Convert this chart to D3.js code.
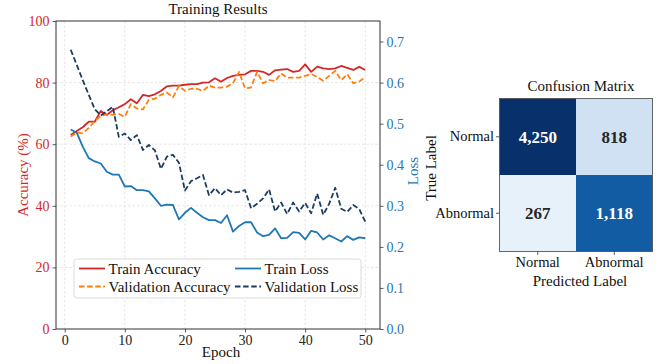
<!DOCTYPE html>
<html>
<head>
<meta charset="utf-8">
<script src="https://cdn.jsdelivr.net/npm/d3@7"></script>
<style>
  body { margin: 0; background: #fff; }
  svg { display: block; font-family: "Liberation Serif", "Times New Roman", serif; }
</style>
</head>
<body>
<svg id="chart" width="661" height="364"></svg>
<script>
// ---- data ----
const trainAcc = [63, 64.3, 65.5, 67.3, 67.3, 70.8, 69.5, 71, 72, 73,
  74.6, 73.3, 76, 75.6, 76.2, 77.3, 78.8, 79, 79, 79.3,
  79.5, 79.5, 80, 80.1, 81.4, 80.3, 81.5, 82.2, 82.5, 82.7,
  83.8, 83.8, 83.5, 82.5, 84, 84.2, 84.4, 83.5, 83.8, 85.9,
  83.5, 85.2, 84.6, 84.4, 84.6, 85.4, 84.8, 84.1, 85.1, 84.1]
const valAcc = [62.5, 63.8, 63.5, 65.3, 67.5, 69.2, 69.8, 69.5, 69.8, 68.9,
  73, 71.6, 71.3, 74.4, 74.8, 76, 76.8, 75.2, 78.9, 77.3,
  78, 78, 77.3, 79, 78.4, 78.4, 78.7, 79.8, 83.5, 78.1,
  78.4, 83.5, 79.8, 80.8, 80.5, 83, 81.6, 81.6, 81.6, 82.2,
  82.8, 81.8, 80.6, 82.2, 83.8, 80.8, 82.7, 79.8, 80.3, 81.9]
const trainLoss = [0.486, 0.478, 0.444, 0.416, 0.408, 0.403, 0.383, 0.376, 0.376, 0.347,
  0.348, 0.338, 0.338, 0.335, 0.318, 0.300, 0.303, 0.302, 0.267, 0.283,
  0.295, 0.283, 0.272, 0.265, 0.265, 0.258, 0.277, 0.237, 0.251, 0.260,
  0.260, 0.235, 0.226, 0.229, 0.245, 0.221, 0.222, 0.236, 0.234, 0.218,
  0.239, 0.235, 0.218, 0.228, 0.221, 0.213, 0.226, 0.217, 0.223, 0.221]
const valLoss = [0.680, 0.643, 0.606, 0.570, 0.535, 0.520, 0.530, 0.541, 0.468, 0.476,
  0.460, 0.472, 0.436, 0.448, 0.435, 0.390, 0.420, 0.424, 0.405, 0.337,
  0.360, 0.367, 0.375, 0.326, 0.343, 0.326, 0.340, 0.332, 0.334, 0.338,
  0.294, 0.305, 0.318, 0.340, 0.286, 0.308, 0.280, 0.308, 0.286, 0.307,
  0.282, 0.330, 0.278, 0.305, 0.344, 0.293, 0.285, 0.302, 0.292, 0.261]

const epochTicks = [0, 10, 20, 30, 40, 50]
const accTicks = [0, 20, 40, 60, 80, 100]
const lossTicks = [0, 0.1, 0.2, 0.3, 0.4, 0.5, 0.6, 0.7]
const seriesNames = ["Train Accuracy", "Validation Accuracy", "Train Loss", "Validation Loss"]

const classLabels = ["Normal", "Abnormal"]
const confusion = [[4250, 818], [267, 1118]]

// ---- styling ----
const red = "#d62728", orange = "#ff7f0e", blue = "#1f77b4", navy = "#1d3d63"
const tickSize = "14px", labelSize = "15px"

const svg = d3.select("#chart")

// ================= training curves =================
const plot = {left: 56, top: 21, right: 380, bottom: 329}

const x = d3.scaleLinear().domain([-1.45, 52.45]).range([plot.left, plot.right])
const yAcc = d3.scaleLinear().domain([0, 100]).range([plot.bottom, plot.top])
const yLoss = d3.scaleLinear().domain([0, 0.75]).range([plot.bottom, plot.top])

// grid
const grid = svg.append("g").attr("class", "grid")
  .attr("stroke", "#dedede").attr("stroke-width", 0.8).attr("stroke-dasharray", "2.5,2")
grid.selectAll("line.v").data(epochTicks).join("line").attr("class", "v")
  .attr("x1", d => x(d)).attr("x2", d => x(d))
  .attr("y1", plot.top).attr("y2", plot.bottom)
grid.selectAll("line.h").data(accTicks.slice(1, -1)).join("line").attr("class", "h")
  .attr("y1", d => yAcc(d)).attr("y2", d => yAcc(d))
  .attr("x1", plot.left).attr("x2", plot.right)

// axes
function styleAxis(g, colour) {
  g.select(".domain").remove()
  g.selectAll(".tick line").attr("stroke", "#333").attr("stroke-width", 0.8)
  g.selectAll(".tick text").attr("fill", colour).style("font-size", tickSize)
    .style("font-family", "Liberation Serif")
}
svg.append("g").attr("transform", `translate(0,${plot.bottom})`)
  .call(d3.axisBottom(x).tickValues(epochTicks).tickSize(3.5).tickPadding(3).tickFormat(d3.format("d")))
  .call(g => styleAxis(g, "#222"))
svg.append("g").attr("transform", `translate(${plot.left},0)`)
  .call(d3.axisLeft(yAcc).tickValues(accTicks).tickSize(3.5).tickPadding(3).tickFormat(d3.format("d")))
  .call(g => styleAxis(g, red))
svg.append("g").attr("transform", `translate(${plot.right},0)`)
  .call(d3.axisRight(yLoss).tickValues(lossTicks).tickSize(3.5).tickPadding(3).tickFormat(d3.format(".1f")))
  .call(g => styleAxis(g, blue))

// lines
const accLine = d3.line().x((d, i) => x(i + 1)).y(d => yAcc(d))
const lossLine = d3.line().x((d, i) => x(i + 1)).y(d => yLoss(d))
const series = [
  {values: trainAcc, line: accLine, colour: red, dash: null},
  {values: valAcc, line: accLine, colour: orange, dash: "5.5,2.6"},
  {values: trainLoss, line: lossLine, colour: blue, dash: null},
  {values: valLoss, line: lossLine, colour: navy, dash: "5.5,2.6"}
]
svg.append("g").selectAll("path").data(series).join("path")
  .attr("d", d => d.line(d.values))
  .attr("fill", "none")
  .attr("stroke", d => d.colour)
  .attr("stroke-width", 1.8)
  .attr("stroke-linejoin", "round")
  .attr("stroke-dasharray", d => d.dash)

// frame
svg.append("rect")
  .attr("x", plot.left).attr("y", plot.top)
  .attr("width", plot.right - plot.left).attr("height", plot.bottom - plot.top)
  .attr("fill", "none").attr("stroke", "#333").attr("stroke-width", 1)

// labels
svg.append("text").text("Training Results")
  .attr("x", (plot.left + plot.right) / 2).attr("y", 14)
  .attr("text-anchor", "middle").style("font-size", labelSize).attr("fill", "#111")
svg.append("text").text("Epoch")
  .attr("x", (plot.left + plot.right) / 2 + 3).attr("y", 357)
  .attr("text-anchor", "middle").style("font-size", labelSize).attr("fill", "#111")
svg.append("text").text("Accuracy (%)")
  .attr("transform", `translate(28,${(plot.top + plot.bottom) / 2}) rotate(-90)`)
  .attr("text-anchor", "middle").style("font-size", labelSize).attr("fill", red)
svg.append("text").text("Loss")
  .attr("transform", `translate(418,${(plot.top + plot.bottom) / 2 - 4}) rotate(-90)`)
  .attr("text-anchor", "middle").style("font-size", labelSize).attr("fill", blue)

// legend
const legend = svg.append("g").attr("transform", "translate(74,259)")
legend.append("rect")
  .attr("width", 287).attr("height", 39).attr("rx", 2.5)
  .attr("fill", "#fff").attr("fill-opacity", 0.85)
  .attr("stroke", "#d0d0d0").attr("stroke-width", 0.8)
const items = legend.selectAll("g.item").data(seriesNames).join("g").attr("class", "item")
  .attr("transform", (d, i) => `translate(${i < 2 ? 5 : 161},${i % 2 ? 27.5 : 9.5})`)
items.append("line")
  .attr("x1", 0).attr("x2", 26)
  .attr("stroke", (d, i) => series[i].colour)
  .attr("stroke-width", 1.8)
  .attr("stroke-dasharray", (d, i) => series[i].dash)
items.append("text").text(d => d)
  .attr("x", 29.5).attr("y", 5)
  .style("font-size", labelSize).attr("fill", "#111")

// ================= confusion matrix =================
const cm = {left: 499.5, top: 98.5, size: 153}
const cx = d3.scaleBand().domain(classLabels).range([cm.left, cm.left + cm.size])
const cy = d3.scaleBand().domain(classLabels).range([cm.top, cm.top + cm.size])

const cells = confusion.flatMap((row, r) => row.map((v, c) => ({r, c, v})))
const sorted = d3.sort(cells.map(d => d.v))
const tone = d3.scaleLinear().domain(sorted).range([0.08, 0.2, 0.83, 1])
const colour = d3.scaleSequential(d3.interpolateBlues).domain([0, 1])

const cmG = svg.append("g")
cmG.selectAll("rect.cell").data(cells).join("rect").attr("class", "cell")
  .attr("x", d => cx(classLabels[d.c])).attr("y", d => cy(classLabels[d.r]))
  .attr("width", cx.bandwidth()).attr("height", cy.bandwidth())
  .attr("fill", d => colour(tone(d.v)))
cmG.selectAll("text.val").data(cells).join("text").attr("class", "val")
  .text(d => d3.format(",")(d.v))
  .attr("x", d => cx(classLabels[d.c]) + cx.bandwidth() / 2)
  .attr("y", d => cy(classLabels[d.r]) + cy.bandwidth() / 2)
  .attr("dy", "0.35em")
  .attr("text-anchor", "middle")
  .style("font-size", "17px").style("font-weight", "bold")
  .attr("fill", d => tone(d.v) > 0.5 ? "#fff" : "#262626")
cmG.append("rect")
  .attr("x", cm.left).attr("y", cm.top).attr("width", cm.size).attr("height", cm.size)
  .attr("fill", "none").attr("stroke", "#555").attr("stroke-width", 0.9)

svg.append("g").attr("transform", `translate(0,${cm.top + cm.size})`)
  .call(d3.axisBottom(cx).tickSize(3.5).tickPadding(2))
  .call(g => styleAxis(g, "#111"))
  .call(g => g.selectAll(".tick text").style("font-size", "14.5px"))
svg.append("g").attr("transform", `translate(${cm.left},0)`)
  .call(d3.axisLeft(cy).tickSize(3.5).tickPadding(2))
  .call(g => styleAxis(g, "#111"))
  .call(g => g.selectAll(".tick text").style("font-size", "14.5px"))

svg.append("text").text("Confusion Matrix")
  .attr("x", cm.left + cm.size / 2 + 5).attr("y", 91)
  .attr("text-anchor", "middle").style("font-size", labelSize).attr("fill", "#111")
svg.append("text").text("Predicted Label")
  .attr("x", cm.left + cm.size / 2 + 4).attr("y", 286)
  .attr("text-anchor", "middle").style("font-size", labelSize).attr("fill", "#111")
svg.append("text").text("True Label")
  .attr("transform", `translate(436,${cm.top + cm.size / 2 - 7}) rotate(-90)`)
  .attr("text-anchor", "middle").style("font-size", labelSize).attr("fill", "#111")
</script>
</body>
</html>
